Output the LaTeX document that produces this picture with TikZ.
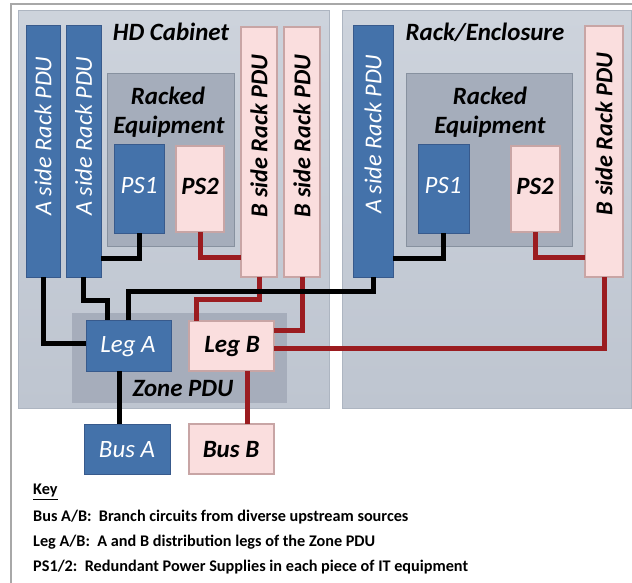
\documentclass[tikz,border=0pt]{standalone}
\usepackage{fontspec}
\setmainfont{Carlito}
\definecolor{ablue}{HTML}{4472AA}
\definecolor{aborder}{HTML}{385A8C}
\definecolor{bpink}{HTML}{FADEDE}
\definecolor{bborder}{HTML}{C8A5A5}
\definecolor{eqfill}{HTML}{A5ADBB}
\definecolor{eqborder}{HTML}{87919F}
\definecolor{zonefill}{HTML}{A6ADBB}
\definecolor{cabtop}{HTML}{CDD3DC}
\definecolor{cabbot}{HTML}{BEC5D0}
\definecolor{cabborder}{HTML}{ADB5C1}
\definecolor{redline}{HTML}{9B1C20}
\definecolor{framegray}{HTML}{A8A8A8}
\tikzset{
  box/.style={anchor=north west, inner sep=0pt, outer sep=0pt, line width=1bp},
  cab/.style={box, top color=cabtop, bottom color=cabbot, draw=cabborder},
  eqbox/.style={box, fill=eqfill, draw=eqborder},
  zonebox/.style={box, fill=zonefill},
  abox/.style={box, fill=ablue, draw=aborder},
  bbox/.style={box, fill=bpink, draw=bborder, line width=1.3bp},
  alabel/.style={text=white, font=\fontsize{25}{28}\selectfont\itshape, inner sep=0pt},
  blabel/.style={text=black, font=\fontsize{25}{28}\selectfont\bfseries\itshape, inner sep=0pt},
  avlabel/.style={alabel, rotate=90, font=\fontsize{24.3}{28}\selectfont\itshape},
  bvlabel/.style={blabel, rotate=90, font=\fontsize{24.3}{28}\selectfont\bfseries\itshape},
  keytext/.style={anchor=west, inner sep=0pt, font=\fontsize{16.3}{18}\selectfont\bfseries},
  alink/.style={line width=5bp, black},
  blink/.style={line width=5bp, redline},
}
\begin{document}
\begin{tikzpicture}[x=1bp,y=-1bp]
\useasboundingbox (0,0) rectangle (632,583);
\draw[framegray, line width=2bp] (11,583) -- (11,4) -- (632,4);
% cabinets
\node[cab, minimum width=311bp, minimum height=397bp] (hd) at (18,11) {};
\node[cab, minimum width=289bp, minimum height=397bp] (rack) at (342,11) {};
\node[blabel] (hdlbl) at (171,32) {HD Cabinet};
\node[blabel] (racklbl) at (485,32) {Rack/Enclosure};
% racked equipment
\node[eqbox, minimum width=127bp, minimum height=172bp] (eqh) at (107,74) {};
\node[eqbox, minimum width=166bp, minimum height=172bp] (eqr) at (406,74) {};
\node[blabel] (eqhl1) at (168,96) {Racked};
\node[blabel] (eqhl2) at (169,127) {Equipment};
\node[blabel] (eqrl1) at (490,96) {Racked};
\node[blabel] (eqrl2) at (490,127) {Equipment};
% power supplies
\node[abox, minimum width=50bp, minimum height=88bp] (ps1h) at (114,145) {};
\node[bbox, minimum width=48bp, minimum height=86bp] (ps2h) at (176,146) {};
\node[abox, minimum width=51bp, minimum height=88bp] (ps1r) at (418,145) {};
\node[bbox, minimum width=49bp, minimum height=86bp] (ps2r) at (511,146) {};
\node[alabel] (ps1hl) at (139,186) {PS1};
\node[blabel] (ps2hl) at (200,186) {PS2};
\node[alabel] (ps1rl) at (443,186) {PS1};
\node[blabel] (ps2rl) at (535,186) {PS2};
% rack PDUs
\node[abox, minimum width=34bp, minimum height=251bp] (a1h) at (26,26) {};
\node[abox, minimum width=35bp, minimum height=251bp] (a2h) at (66,26) {};
\node[bbox, minimum width=36bp, minimum height=250bp] (b1h) at (241,27) {};
\node[bbox, minimum width=36bp, minimum height=250bp] (b2h) at (284,27) {};
\node[abox, minimum width=40bp, minimum height=251bp] (ar) at (353,26) {};
\node[bbox, minimum width=38bp, minimum height=251bp] (br) at (585,26) {};
\node[avlabel] (a1hl) at (43,136) {A side Rack PDU};
\node[avlabel] (a2hl) at (83.5,136) {A side Rack PDU};
\node[bvlabel] (b1hl) at (259,136) {B side Rack PDU};
\node[bvlabel] (b2hl) at (302,136) {B side Rack PDU};
\node[avlabel] (arl) at (373,134) {A side Rack PDU};
\node[bvlabel] (brl) at (604,134) {B side Rack PDU};
% zone PDU
\node[zonebox, minimum width=215bp, minimum height=90bp] (zone) at (72,313) {};
\node[blabel] (zonel) at (183,389) {Zone PDU};
\node[abox, minimum width=85bp, minimum height=51bp] (lega) at (86,320) {};
\node[bbox, minimum width=85bp, minimum height=50bp] (legb) at (189,321) {};
\node[alabel] (legal) at (128,347) {Leg A};
\node[blabel] (legbl) at (232,347) {Leg B};
% buses
\node[abox, minimum width=86bp, minimum height=50bp] (busa) at (84,424) {};
\node[bbox, minimum width=85bp, minimum height=50bp] (busb) at (189,424) {};
\node[alabel] (busal) at (127,450) {Bus A};
\node[blabel] (busbl) at (231,450) {Bus B};
% B-side (red) connectors
\draw[blink] (ps2h.south) |- (b1h.west |- 0,257);
\draw[blink] (b1h.south) -- (b1h.south |- 0,299) -| ([xshift=7bp]legb.north west);
\draw[blink] (b2h.south) |- ([yshift=-9bp]legb.north east);
\draw[blink] ([yshift=-2bp]legb.east) -| (br.south);
\draw[blink] (ps2r.south) |- (br.west |- 0,257);
\draw[blink] ([xshift=16bp]legb.south) -- ([xshift=16bp]busb.north);
% A-side (black) connectors
\draw[alink] (ps1h.south) |- (a2h.east |- 0,258);
\draw[alink] (a1h.south) |- ([yshift=2bp]lega.west);
\draw[alink] (a2h.south) -- (a2h.south |- 0,300) -| ([xshift=21bp]lega.north west);
\draw[alink] (lega.north) -- (lega.north |- 0,291) -| (ar.south);
\draw[alink] (ps1r.south) |- (ar.east |- 0,258);
\draw[alink] ([xshift=-9bp]lega.south) -- ([xshift=-9bp]lega.south |- busa.north);
% key
\node[keytext] (key) at (33,492) {\underline{Key}};
\node[keytext] (k1) at (33,517) {Bus A/B:\ \ Branch circuits from diverse upstream sources};
\node[keytext] (k2) at (33,542) {Leg A/B:\ \ A and B distribution legs of the Zone PDU};
\node[keytext] (k3) at (33,567) {PS1/2:\ \ Redundant Power Supplies in each piece of IT equipment};
\end{tikzpicture}
\end{document}
